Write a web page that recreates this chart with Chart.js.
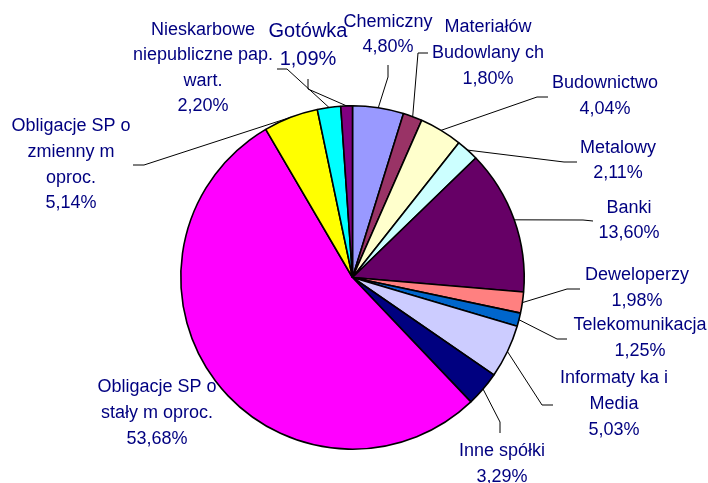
<!DOCTYPE html>
<html>
<head>
<meta charset="utf-8">
<script src="https://cdn.jsdelivr.net/npm/chart.js@4"></script>
<style>
  html, body { margin: 0; padding: 0; background: #fff; }
  #wrap { width: 708px; height: 483px; }
</style>
</head>
<body>
<div id="wrap"><canvas id="pie" width="708" height="483"></canvas></div>
<script>
// Dane wykresu (kolejność zgodnie z ruchem wskazówek zegara od góry)
const categories = [
    ['Chemiczny'],
    ['Materiałów', 'Budowlany ch'],
    ['Budownictwo'],
    ['Metalowy'],
    ['Banki'],
    ['Deweloperzy'],
    ['Telekomunikacja'],
    ['Informaty ka i', 'Media'],
    ['Inne spółki'],
    ['Obligacje SP o', 'stały m oproc.'],
    ['Obligacje SP o', 'zmienny m', 'oproc.'],
    ['Nieskarbowe', 'niepubliczne pap.', 'wart.'],
    ['Gotówka']
];
const shares = [4.80, 1.80, 4.04, 2.11, 13.60, 1.98, 1.25, 5.03, 3.29, 53.68, 5.14, 2.20, 1.09];
const sliceColors = ['#9999FF', '#993366', '#FFFFCC', '#CCFFFF', '#660066', '#FF8080', '#0066CC',
    '#CCCCFF', '#000080', '#FF00FF', '#FFFF00', '#00FFFF', '#800080'];

// Rozmieszczenie etykiet: środek tekstu, pierwsza linia bazowa, linia odniesienia (kolanko, koniec)
const labelLayout = [
    { x: 388, y: 27,  lh: 25, size: 18, leader: [[388, 77], [388, 65]] },
    { x: 488, y: 32,  lh: 26, size: 18, leader: [[418, 53], [428, 53]] },
    { x: 605, y: 88,  lh: 26, size: 18, leader: [[537, 97], [548, 97]] },
    { x: 618, y: 153, lh: 25, size: 18, leader: [[564, 162], [577, 162]] },
    { x: 629, y: 213, lh: 25, size: 18, leader: [[583, 220], [593, 221]] },
    { x: 637, y: 280, lh: 26, size: 18, leader: [[567, 289], [580, 289]] },
    { x: 640, y: 330, lh: 26, size: 18, leader: [[557, 339], [567, 339]] },
    { x: 614, y: 383, lh: 26, size: 18, leader: [[542, 405], [553, 405]] },
    { x: 502, y: 456, lh: 26, size: 18, leader: [[500, 422], [500, 433]] },
    { x: 157, y: 392, lh: 26, size: 18, leader: null },
    { x: 71,  y: 131, lh: 25.8, size: 18, leader: [[144, 165], [133, 165]] },
    { x: 203, y: 34.5, lh: 25.5, size: 18, leader: [[287, 69], [277, 69]] },
    { x: 308, y: 37,  lh: 28, size: 20, leader: [[308, 89], [308, 79]] }
];

const textColor = '#000080';
const fmt = v => v.toFixed(2).replace('.', ',') + '%';

const labelPlugin = {
    id: 'sliceLabels',
    beforeDatasetsDraw(chart) {
        const ctx = chart.ctx;
        const meta = chart.getDatasetMeta(0);
        ctx.save();
        meta.data.forEach((arc, i) => {
            const lay = labelLayout[i];
            const p = arc.getProps(['x', 'y', 'startAngle', 'endAngle', 'outerRadius'], true);
            const mid = (p.startAngle + p.endAngle) / 2;
            if (lay.leader) {
                ctx.strokeStyle = '#000';
                ctx.lineWidth = 1;
                ctx.beginPath();
                ctx.moveTo(p.x + Math.cos(mid) * p.outerRadius, p.y + Math.sin(mid) * p.outerRadius);
                lay.leader.forEach(pt => ctx.lineTo(pt[0], pt[1]));
                ctx.stroke();
            }
            const lines = categories[i].concat([fmt(shares[i])]);
            ctx.fillStyle = textColor;
            ctx.font = lay.size + 'px "Liberation Sans", Arial, sans-serif';
            ctx.textAlign = 'center';
            ctx.textBaseline = 'alphabetic';
            lines.forEach((t, k) => ctx.fillText(t, lay.x, lay.y + k * lay.lh));
        });
        ctx.restore();
    }
};

new Chart(document.getElementById('pie').getContext('2d'), {
    type: 'pie',
    data: {
        labels: categories,
        datasets: [{
            data: shares,
            backgroundColor: sliceColors,
            borderColor: '#000',
            borderWidth: 1.6
        }]
    },
    options: {
        responsive: false,
        animation: false,
        layout: { padding: { left: 180, right: 183, top: 105, bottom: 33 } },
        plugins: {
            legend: { display: false },
            tooltip: { enabled: false }
        }
    },
    plugins: [labelPlugin]
});
</script>
</body>
</html>
